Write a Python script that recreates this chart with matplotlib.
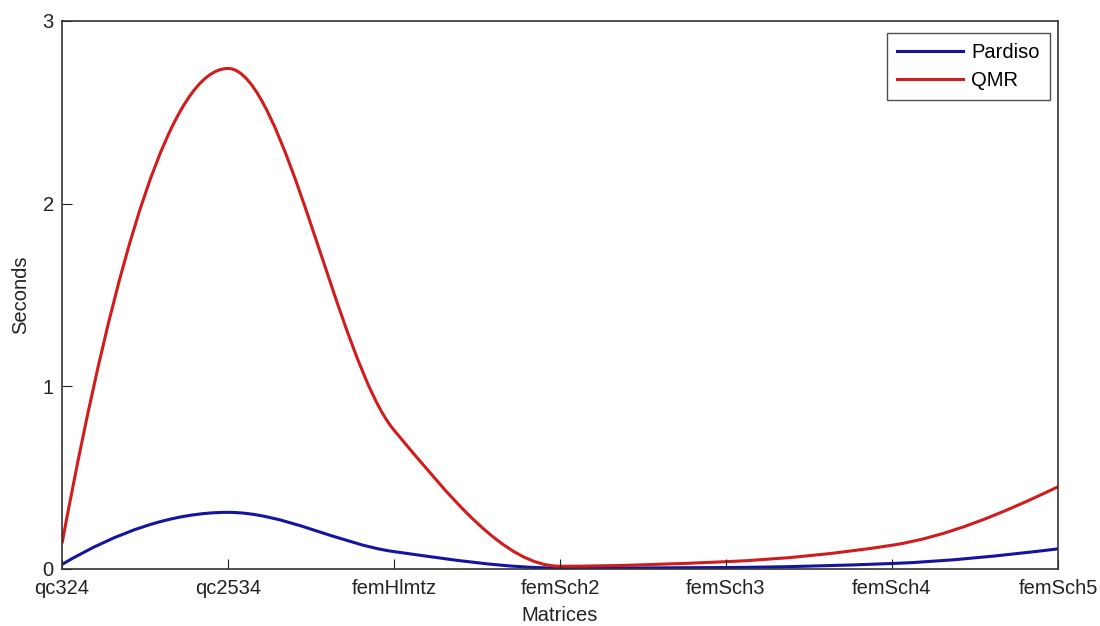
import numpy as np
import matplotlib.pyplot as plt
from matplotlib.path import Path
from matplotlib.patches import PathPatch

plt.rcParams['font.family'] = ['Liberation Sans', 'DejaVu Sans']

matrices = ['qc324', 'qc2534', 'femHlmtz', 'femSch2', 'femSch3', 'femSch4', 'femSch5']
pardiso = [0.025, 0.31, 0.095, 0.005, 0.008, 0.03, 0.11]
qmr = [0.14, 2.74, 0.76, 0.015, 0.04, 0.13, 0.45]


def slopes(y):
    # shape preserving (pchip-like) tangents, unit spacing
    d = np.diff(y)
    m = np.zeros(len(y))
    for i in range(1, len(y) - 1):
        if d[i - 1] * d[i] > 0:
            m[i] = 2.0 / (1.0 / d[i - 1] + 1.0 / d[i])
    for i, (a, b) in [(0, (d[0], d[1])), (-1, (d[-1], d[-2]))]:
        e = (3 * a - b) / 2.0
        if np.sign(e) != np.sign(a):
            e = 0.0
        elif np.sign(a) != np.sign(b) and abs(e) > abs(3 * a):
            e = 3 * a
        m[i] = e
    return m


def smooth_path(y):
    # cubic bezier segments through the data points
    y = np.asarray(y, dtype=float)
    x = np.arange(len(y), dtype=float)
    m = slopes(y)
    verts = [(x[0], y[0])]
    codes = [Path.MOVETO]
    for i in range(len(x) - 1):
        verts += [(x[i] + 1 / 3, y[i] + m[i] / 3),
                  (x[i + 1] - 1 / 3, y[i + 1] - m[i + 1] / 3),
                  (x[i + 1], y[i + 1])]
        codes += [Path.CURVE4] * 3
    return Path(verts, codes)


fig = plt.figure(figsize=(11, 6.26), dpi=100)
ax = fig.add_axes([0.0564, 0.0911, 0.9054, 0.8754])

for vals, col, lab in [(pardiso, '#1414a0', 'Pardiso'), (qmr, '#d01c1c', 'QMR')]:
    ax.add_patch(PathPatch(smooth_path(vals), facecolor='none', edgecolor=col, lw=2.2))
    ax.plot([], [], color=col, lw=2.2, label=lab)

ax.set_xlim(0, len(matrices) - 1)
ax.set_ylim(0, 3)
ax.set_xticks(range(len(matrices)))
ax.set_xticklabels(matrices)
ax.set_yticks([0, 1, 2, 3])
ax.tick_params(direction='in', length=7, labelsize=14.5, colors='#222222')
ax.tick_params(axis='x', pad=7)
ax.tick_params(axis='y', pad=6)
for s in ax.spines.values():
    s.set_color('#333333')
    s.set_linewidth(1.2)
ax.set_xlabel('Matrices', fontsize=14.5, color='#222222', labelpad=6)
ax.set_ylabel('Seconds', fontsize=14.5, color='#222222', labelpad=9)

leg = ax.legend(loc='upper right', bbox_to_anchor=(0.992, 0.978), borderaxespad=0,
                fontsize=14.5, frameon=True, fancybox=False, handlelength=3.3,
                handletextpad=0.4, labelspacing=0.45, borderpad=0.5)
leg.get_frame().set_edgecolor('#222222')
leg.get_frame().set_linewidth(1.0)

fig.savefig('out.png')
